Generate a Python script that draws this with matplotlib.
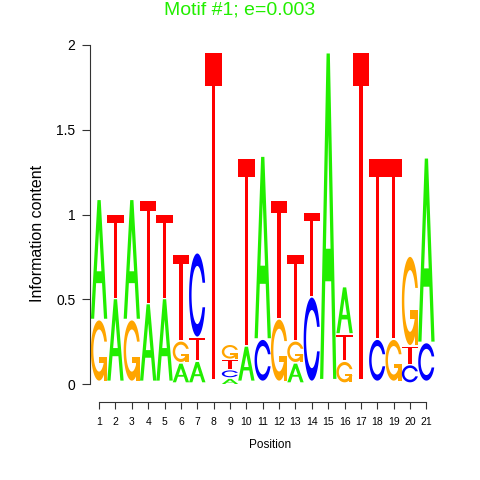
import numpy as np
import matplotlib
matplotlib.use("Agg")
import matplotlib.pyplot as plt

plt.rcParams['font.family'] = ['Liberation Sans', 'DejaVu Sans']

# Motif data: information content per letter at each position
positions = list(range(1, 22))
heights_A = [0.70, 0.48, 0.70, 0.45, 0.48, 0.11, 0.12, 0.00, 0.03, 0.20, 1.07,
             0.00, 0.11, 0.00, 1.92, 0.27, 0.00, 0.00, 0.00, 0.00, 1.08]
heights_C = [0.00, 0.00, 0.00, 0.00, 0.00, 0.00, 0.49, 0.00, 0.04, 0.00, 0.24,
             0.00, 0.00, 0.49, 0.00, 0.00, 0.00, 0.24, 0.00, 0.10, 0.22]
heights_G = [0.355, 0.00, 0.355, 0.00, 0.00, 0.12, 0.00, 0.00, 0.08, 0.00, 0.00,
             0.36, 0.12, 0.00, 0.00, 0.12, 0.00, 0.00, 0.24, 0.52, 0.00]
heights_T = [0.00, 0.49, 0.00, 0.60, 0.49, 0.50, 0.13, 1.92, 0.05, 1.10, 0.00,
             0.69, 0.50, 0.49, 0.00, 0.15, 1.92, 1.06, 1.06, 0.10, 0.00]

letters = ['A', 'C', 'G', 'T']
colors = {'A': '#22ee00', 'C': '#0000ff', 'G': '#ffa500', 'T': '#ff0000'}
title = "Motif #1; e=0.003"


# Letter shapes in a unit box (polygon outlines, seqLogo style)
def shape_A():
    x = np.array([0, 4, 6, 10, 8, 6.8, 3.2, 2, 0]) * 0.1
    y = np.array([0, 10, 10, 0, 0, 3, 3, 0, 0]) * 0.1
    xi = np.array([3.6, 5, 6.4, 3.6]) * 0.1
    yi = np.array([4, 7.5, 4, 4]) * 0.1
    return [(x, y, None), (xi, yi, 'white')]


def shape_T():
    x = np.array([0, 10, 10, 6, 6, 4, 4, 0]) * 0.1
    y = np.array([10, 10, 9, 9, 0, 0, 9, 9]) * 0.1
    return [(x, y, None)]


def c_outline():
    a1 = np.linspace(0.3 + np.pi / 2, np.pi, 100)
    a2 = np.linspace(np.pi, 1.5 * np.pi, 100)
    xl = np.concatenate([0.5 + 0.5 * np.sin(a1), 0.5 + 0.5 * np.sin(a2)])
    yl = np.concatenate([0.5 + 0.5 * np.cos(a1), 0.5 + 0.5 * np.cos(a2)])
    x = np.concatenate([xl, xl[::-1]])
    y = np.concatenate([yl, 1 - yl[::-1]])
    ymax = (0.5 + 0.5 * np.cos(a1)).max()
    xi1 = 0.5 + 0.35 * np.sin(a1)
    yi1 = 0.5 + 0.35 * np.cos(a1)
    keep = yi1 <= ymax
    xi1, yi1 = xi1[keep], yi1[keep]
    yi1[0] = ymax
    xi = np.concatenate([xi1, 0.5 + 0.35 * np.sin(a2)])
    yi = np.concatenate([yi1, 0.5 + 0.35 * np.cos(a2)])
    x1 = np.concatenate([xi, xi[::-1]])
    y1 = np.concatenate([yi, 1 - yi[::-1]])
    x = np.concatenate([x, x1[::-1]])
    y = np.concatenate([y, y1[::-1]])
    r1 = (0.5 + 0.5 * np.sin(a1)).max()
    return x, y, r1


def shape_C():
    x, y, _ = c_outline()
    return [(x, y, None)]


def shape_G():
    x, y, r1 = c_outline()
    h1 = 0.4
    xa = np.array([r1, 0.5, 0.5, r1 - 0.2, r1 - 0.2, r1, r1])
    ya = np.array([h1, h1, h1 - 0.1, h1 - 0.1, 0, 0, h1])
    return [(x, y, None), (xa, ya, None)]


shapes = {'A': shape_A(), 'C': shape_C(), 'G': shape_G(), 'T': shape_T()}

fig = plt.figure(figsize=(4.8, 4.8), dpi=100)
ax = fig.add_axes([90 / 480, 96 / 480, 350 / 480, 339 / 480])

table = np.array([heights_A, heights_C, heights_G, heights_T])
for j, pos in enumerate(positions):
    col = table[:, j]
    order = np.argsort(col, kind='stable')
    ypos = 0.0
    for k in order:
        ht = col[k]
        if ht > 0:
            let = letters[k]
            for sx, sy, fc in shapes[let]:
                ax.fill(pos - 0.5 + sx, ypos + ht * sy,
                        color=fc if fc else colors[let], lw=0)
        ypos += ht + 0.01

ax.set_xlim(0.445, 21.83)
ax.set_ylim(0, 2)

# R-style axes
for s in ['top', 'right']:
    ax.spines[s].set_visible(False)
ax.spines['left'].set_bounds(0, 2)
ax.spines['bottom'].set_bounds(1, 21)
ax.spines['bottom'].set_position(('outward', 13))
for s in ['left', 'bottom']:
    ax.spines[s].set_color('#333333')
    ax.spines[s].set_linewidth(0.8)

ax.set_yticks([0, 0.5, 1, 1.5, 2])
ax.set_yticklabels(['0', '0.5', '1', '1.5', '2'])
ax.set_xticks(positions)
ax.set_xticklabels([str(p) for p in positions])
ax.tick_params(axis='y', length=5.5, width=0.8, color='#333333', pad=5, labelsize=10)
ax.tick_params(axis='x', length=5, width=0.8, color='#333333', pad=6, labelsize=7.5)

fig.text(270 / 480, 1 - 445 / 480, 'Position', ha='center', va='center', fontsize=8.5)
fig.text(38 / 480, 1 - 233 / 480, 'Information content', ha='center', va='center',
         rotation=90, fontsize=11.5)
fig.text(0.5, 1 - 10 / 480, title, ha='center', va='center', fontsize=14,
         color='#22ee00')

fig.savefig('out.png', dpi=100)
